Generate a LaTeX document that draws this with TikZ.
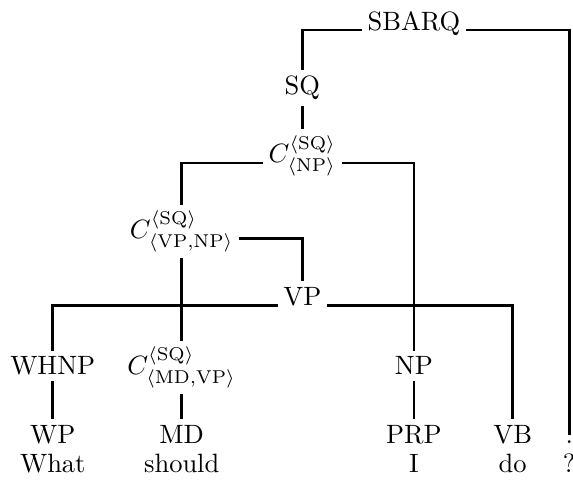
\documentclass[tikz,border=0pt]{standalone}
\usepackage{amsmath,amssymb}
\usepackage{tikz}

\begin{document}
\begin{tikzpicture}[every node/.style={inner sep=2pt, anchor=base}, branch/.style={line width=1pt}]
\useasboundingbox (0,0) rectangle (7.60,-6.367);
\node (sbarq) at (5.49,-0.40) {SBARQ};
\node (sq) at (4.01,-1.26) {SQ};
\node (cnp) at (4.01,-2.16) {$C^{\langle\mathrm{SQ}\rangle}_{\langle\mathrm{NP}\rangle}$};
\node (cvpnp) at (2.41,-3.16) {$C^{\langle\mathrm{SQ}\rangle}_{\langle\mathrm{VP,NP}\rangle}$};
\node (vp) at (4.01,-4.05) {VP};
\node (whnp) at (0.70,-4.97) {WHNP};
\node (cmdvp) at (2.41,-4.97) {$C^{\langle\mathrm{SQ}\rangle}_{\langle\mathrm{MD,VP}\rangle}$};
\node (np) at (5.49,-4.97) {NP};
\node (wp) at (0.70,-5.88) {WP};
\node (md) at (2.41,-5.88) {MD};
\node (prp) at (5.49,-5.88) {PRP};
\node (vb) at (6.80,-5.88) {VB};
\node (dot) at (7.55,-5.88) {.};
\node (what) at (0.70,-6.27) {What};
\node (should) at (2.41,-6.27) {should};
\node (i) at (5.49,-6.27) {I};
\node (do) at (6.80,-6.27) {do};
\node (qm) at (7.55,-6.27) {?};
\draw[branch] (sbarq.base west) -| (sq.north);
\draw[branch] (sbarq.base east) -| (dot.north);
\draw[branch] (sq.south) -- (cnp.north);
\draw[branch] (cnp.base west) -| (cvpnp.north);
\draw[branch] (cnp.base east) -| (np.north);
\draw[branch] (cvpnp.base east) -| (vp.north);
\draw[branch] (cvpnp.south) -- (cmdvp.north);
\draw[branch] (vp.base west) -| (whnp.north);
\draw[branch] (vp.base east) -| (vb.north);
\draw[branch] (whnp.south) -- (wp.north);
\draw[branch] (cmdvp.south) -- (md.north);
\draw[branch] (np.south) -- (prp.north);
\end{tikzpicture}
\end{document}
